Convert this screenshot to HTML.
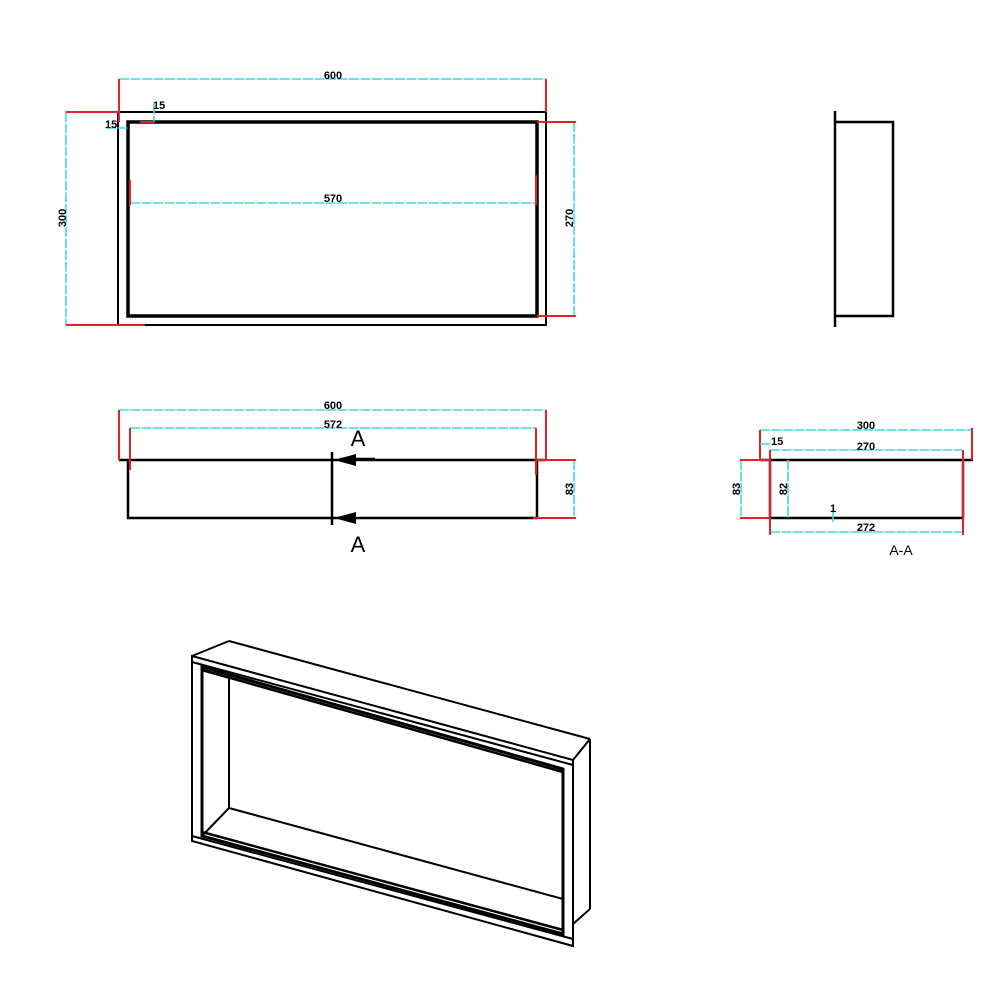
<!DOCTYPE html>
<html><head><meta charset="utf-8"><style>
html,body{margin:0;padding:0;background:#fff}
svg{display:block}
text{font-family:"Liberation Sans",sans-serif;font-size:11px;fill:#000;font-weight:600}
.k{stroke:#000;fill:none}
.c{stroke:#3fd8dc;stroke-width:1.6;stroke-dasharray:10 1.5;fill:none}
.r{stroke:#e0232a;stroke-width:2;fill:none}
</style></head><body>
<svg width="1000" height="1000" viewBox="0 0 1000 1000">
<!-- TOP VIEW -->
<rect x="118" y="112" width="428" height="213" class="k" stroke-width="2"/>
<rect x="128" y="122" width="409" height="194" class="k" stroke-width="3.5"/>
<line x1="119" y1="79" x2="546" y2="79" class="c"/>
<line x1="119" y1="79" x2="119" y2="122" class="r"/>
<line x1="546" y1="79" x2="546" y2="112" class="r"/>
<text x="333" y="79" text-anchor="middle">600</text>
<line x1="66" y1="112" x2="66" y2="325" class="c"/>
<line x1="66" y1="112" x2="118" y2="112" class="r"/>
<line x1="66" y1="325" x2="145" y2="325" class="r"/>
<text transform="translate(66,218) rotate(-90)" text-anchor="middle">300</text>
<line x1="574" y1="122" x2="574" y2="316" class="c"/>
<line x1="537" y1="122" x2="576" y2="122" class="r"/>
<line x1="537" y1="316" x2="576" y2="316" class="r"/>
<text transform="translate(573,218) rotate(-90)" text-anchor="middle">270</text>
<line x1="130" y1="203" x2="536" y2="203" class="c"/>
<line x1="130" y1="180" x2="130" y2="205" class="r"/>
<line x1="536" y1="175" x2="536" y2="205" class="r"/>
<text x="333" y="202" text-anchor="middle">570</text>
<line x1="154" y1="104" x2="154" y2="122" class="c"/>
<line x1="140" y1="122" x2="155" y2="122" class="r"/>
<text x="153" y="109">15</text>
<line x1="106" y1="128" x2="128" y2="128" class="c"/>
<text x="105" y="128">15</text>
<!-- SIDE VIEW -->
<line x1="835" y1="111" x2="835" y2="327" class="k" stroke-width="2.5"/>
<polyline points="835,122 893,122 893,316 835,316" class="k" stroke-width="2.5"/>
<!-- FRONT VIEW -->
<line x1="119" y1="460" x2="546" y2="460" class="k" stroke-width="2.5"/>
<polyline points="128,460 128,518 537,518 537,460" class="k" stroke-width="2.5"/>
<line x1="119" y1="410" x2="546" y2="410" class="c"/>
<line x1="119" y1="410" x2="119" y2="460" class="r"/>
<line x1="546" y1="410" x2="546" y2="460" class="r"/>
<text x="333" y="409" text-anchor="middle">600</text>
<line x1="130" y1="428" x2="536" y2="428" class="c"/>
<line x1="130" y1="428" x2="130" y2="470" class="r"/>
<line x1="536" y1="428" x2="536" y2="475" class="r"/>
<text x="333" y="428" text-anchor="middle">572</text>
<line x1="574" y1="460" x2="574" y2="518" class="c"/>
<line x1="537" y1="460" x2="576" y2="460" class="r"/>
<line x1="533" y1="518" x2="576" y2="518" class="r"/>
<text transform="translate(573,489) rotate(-90)" text-anchor="middle">83</text>
<line x1="332" y1="452" x2="332" y2="525" class="k" stroke-width="2.5"/>
<line x1="340" y1="459" x2="375" y2="459" class="k" stroke-width="2.5"/>
<polygon points="334,460 356,454 356,466" fill="#000"/>
<polygon points="334,518 356,512 356,524" fill="#000"/>
<text x="358" y="446" text-anchor="middle" style="font-size:22px;font-weight:400">A</text>
<text x="358" y="552" text-anchor="middle" style="font-size:22px;font-weight:400">A</text>
<!-- SECTION A-A -->
<line x1="760" y1="460" x2="973" y2="460" class="k" stroke-width="2.5"/>
<polyline points="770,460 770,518 963,518 963,460" class="k" stroke-width="2.5"/>
<line x1="760" y1="430" x2="972" y2="430" class="c"/>
<line x1="760" y1="430" x2="760" y2="460" class="r"/>
<line x1="972" y1="428" x2="972" y2="460" class="r"/>
<text x="866" y="429" text-anchor="middle">300</text>
<line x1="770" y1="450" x2="962" y2="450" class="c"/>
<text x="866" y="450" text-anchor="middle">270</text>
<line x1="760" y1="444" x2="770" y2="444" class="c"/>
<text x="771" y="445">15</text>
<line x1="741" y1="460" x2="741" y2="518" class="c"/>
<line x1="740" y1="460" x2="770" y2="460" class="r"/>
<line x1="740" y1="518" x2="770" y2="518" class="r"/>
<text transform="translate(740,489) rotate(-90)" text-anchor="middle">83</text>
<line x1="788" y1="460" x2="788" y2="518" class="c"/>
<text transform="translate(787,489) rotate(-90)" text-anchor="middle">82</text>
<line x1="770" y1="532" x2="962" y2="532" class="c"/>
<line x1="770" y1="450" x2="770" y2="535" class="r"/>
<line x1="963" y1="450" x2="963" y2="535" class="r"/>
<text x="866" y="531" text-anchor="middle">272</text>
<line x1="833" y1="512" x2="833" y2="522" class="c"/>
<text x="833" y="512" text-anchor="middle">1</text>
<text x="901" y="555" text-anchor="middle" style="font-size:14px;font-weight:400">A-A</text>
<!-- ISO VIEW -->
<g class="k" stroke-width="2">
<polygon points="192,656 573,760 573,946 192,841"/>
<line x1="192" y1="656" x2="229" y2="641"/>
<line x1="229" y1="641" x2="590" y2="739"/>
<line x1="590" y1="739" x2="573" y2="760"/>
<line x1="590" y1="739" x2="590" y2="909"/>
<line x1="590" y1="909" x2="573" y2="924"/>
<line x1="192" y1="662" x2="573" y2="765"/>
<line x1="192" y1="836" x2="573" y2="939"/>
<polygon points="202,667 563,769 563,934 202,836" stroke-width="3"/>
<line x1="229" y1="677" x2="229" y2="808"/>
<line x1="202" y1="836" x2="229" y2="808"/>
<line x1="229" y1="808" x2="563" y2="899"/>
<line x1="202" y1="670" x2="563" y2="772" stroke-width="2.5"/>
<line x1="202" y1="832" x2="563" y2="930" stroke-width="2.5"/>
</g>
</svg>
</body></html>
